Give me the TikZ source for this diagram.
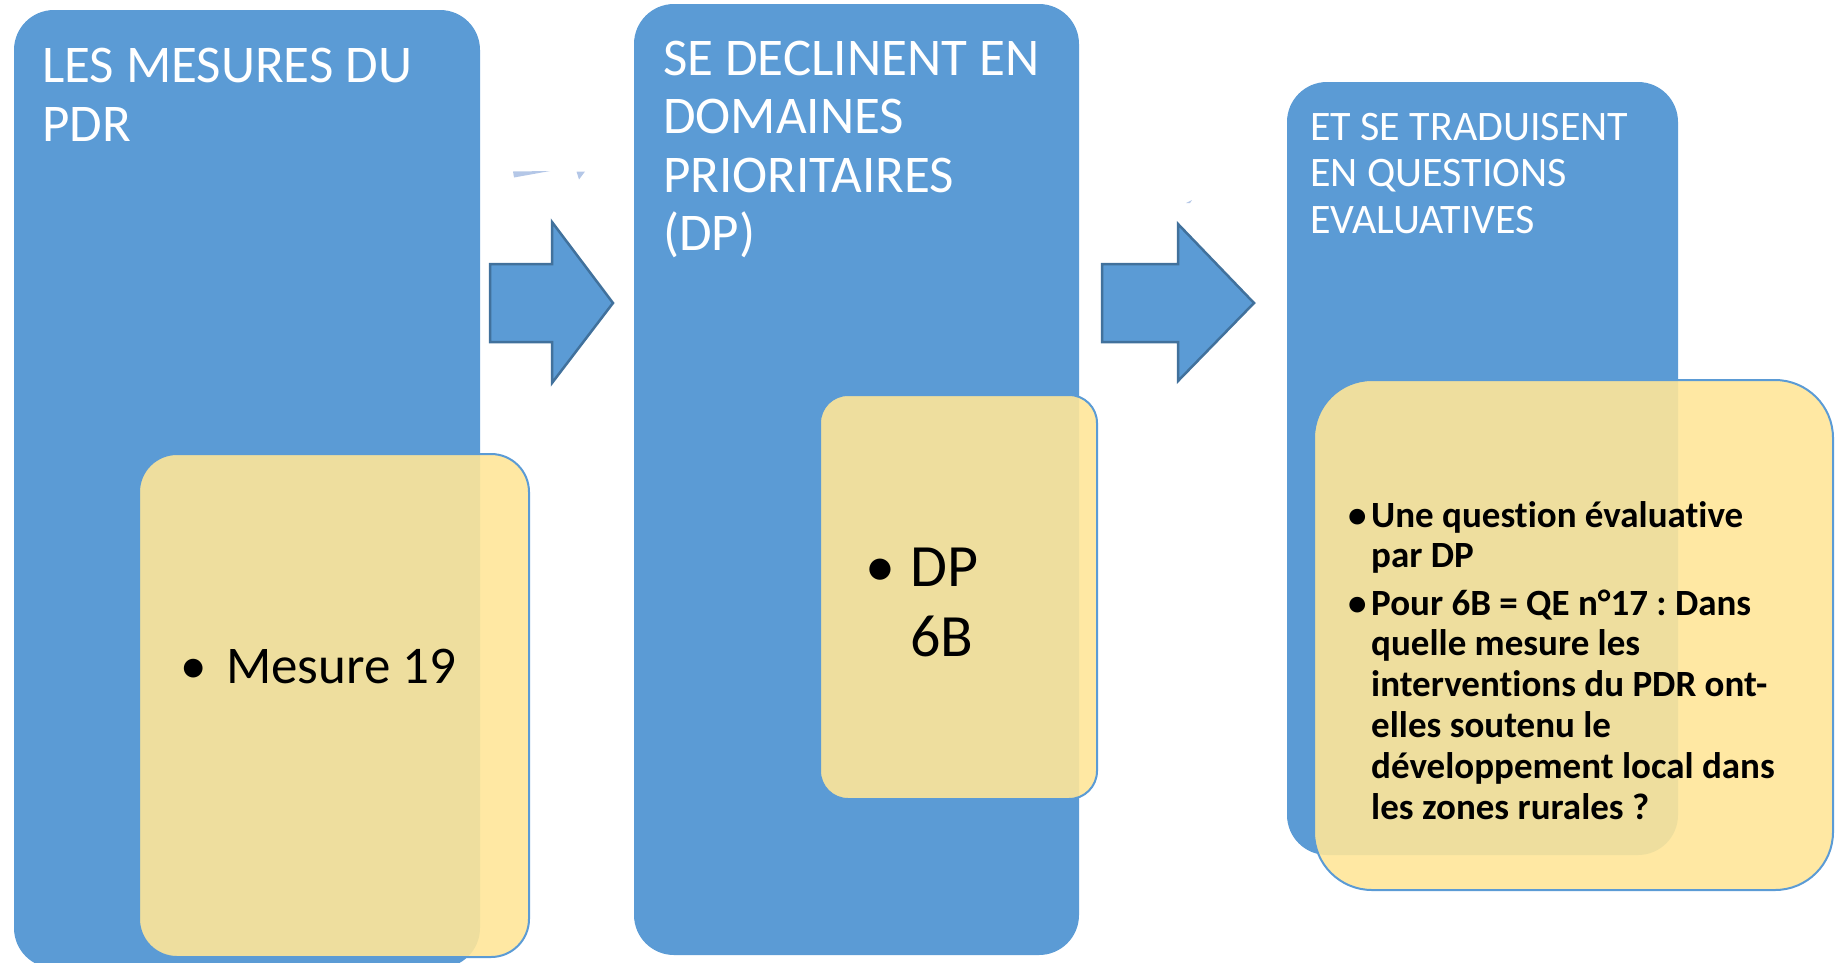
\documentclass[tikz,border=0pt]{standalone}
\usepackage{fontspec}
\setmainfont[Ligatures=NoCommon]{Carlito}
\frenchspacing
\definecolor{boxblue}{HTML}{5B9BD5}
\definecolor{arrowline}{HTML}{41719C}
\definecolor{notefill}{HTML}{FFE699}
\definecolor{sliver}{HTML}{B4C7E7}

\begin{document}
\begin{tikzpicture}[x=1pt,y=-1pt,
	stage/.style={fill=boxblue},
	note/.style={fill=notefill,fill opacity=0.9,draw=boxblue,line width=2pt},
	flow/.style={fill=boxblue,draw=arrowline,line width=2.5pt,line join=miter},
	heading/.style={anchor=base west,inner sep=0pt,text=white,font=\fontsize{53}{59}\selectfont},
	smallheading/.style={anchor=base west,inner sep=0pt,text=white,font=\fontsize{42}{47}\selectfont},
	item/.style={anchor=base west,inner sep=0pt,font=\fontsize{53}{59}\selectfont},
	bigitem/.style={anchor=base west,inner sep=0pt,font=\fontsize{60}{70}\selectfont},
	question/.style={anchor=base west,inner sep=0pt,font=\fontsize{37}{41}\selectfont\bfseries}]
\clip (0,0) rectangle (1845,962);

\fill[stage,rounded corners=40pt] (14,10) rectangle (480,968);
\fill[stage,rounded corners=40pt] (634,4) rectangle (1079,955);
\fill[stage,rounded corners=40pt] (1287,82) rectangle (1678,855);

\path[note,rounded corners=38pt] (139,454) rectangle (529,957);
\path[note,rounded corners=28pt] (820,395) rectangle (1097,799);
\path[note,rounded corners=58pt] (1314,380) rectangle (1833,890);

\draw[flow] (490,264) -- (552,264) -- (552,222) -- (613,303) -- (552,383) -- (552,342) -- (490,342) -- cycle;
\draw[flow] (1102,264) -- (1178,264) -- (1178,224) -- (1254,303) -- (1178,381) -- (1178,342) -- (1102,342) -- cycle;

\fill[sliver] (513,171.5) -- (550,171) -- (514,177.5) -- cycle;
\fill[sliver] (576.5,171.5) -- (585,171.5) -- (579,179.5) -- cycle;
\fill[sliver] (1186,203) -- (1192,200) -- (1190,203) -- cycle;

\path (42,82) node[heading] (mes1) {LES MESURES DU}
		(42,141) node[heading] (mes2) {PDR}
		(663,75) node[heading] (dom1) {SE DECLINENT EN}
		(663,133.5) node[heading] (dom2) {DOMAINES}
		(663,192) node[heading] (dom3) {PRIORITAIRES}
		(663,250.5) node[heading] (dom4) {(DP)}
		(1310,140) node[smallheading] (qe1) {ET SE TRADUISENT}
		(1310,186.5) node[smallheading] (qe2) {EN QUESTIONS}
		(1310,233) node[smallheading] (qe3) {EVALUATIVES}
		(180,683) node[item] (mb) {•}
		(226,683) node[item] (m19) {Mesure 19}
		(865,586) node[bigitem] (db) {•}
		(910,586) node[bigitem] (dp1) {DP}
		(910,656) node[bigitem] (dp2) {6B}
		(1348,527) node[question] (qb1) {•}
		(1371,527) node[question] (q1) {Une question évaluative}
		(1371,567.5) node[question] (q2) {par DP}
		(1348,615) node[question] (qb2) {•}
		(1371,615) node[question] (q3) {Pour 6B = QE n°17 : Dans}
		(1371,655.8) node[question] (q4) {quelle mesure les}
		(1371,696.6) node[question] (q5) {interventions du PDR ont-}
		(1371,737.4) node[question] (q6) {elles soutenu le}
		(1371,778.2) node[question] (q7) {développement local dans}
		(1371,819) node[question] (q8) {les zones rurales ?}
		;
\end{tikzpicture}
\end{document}
